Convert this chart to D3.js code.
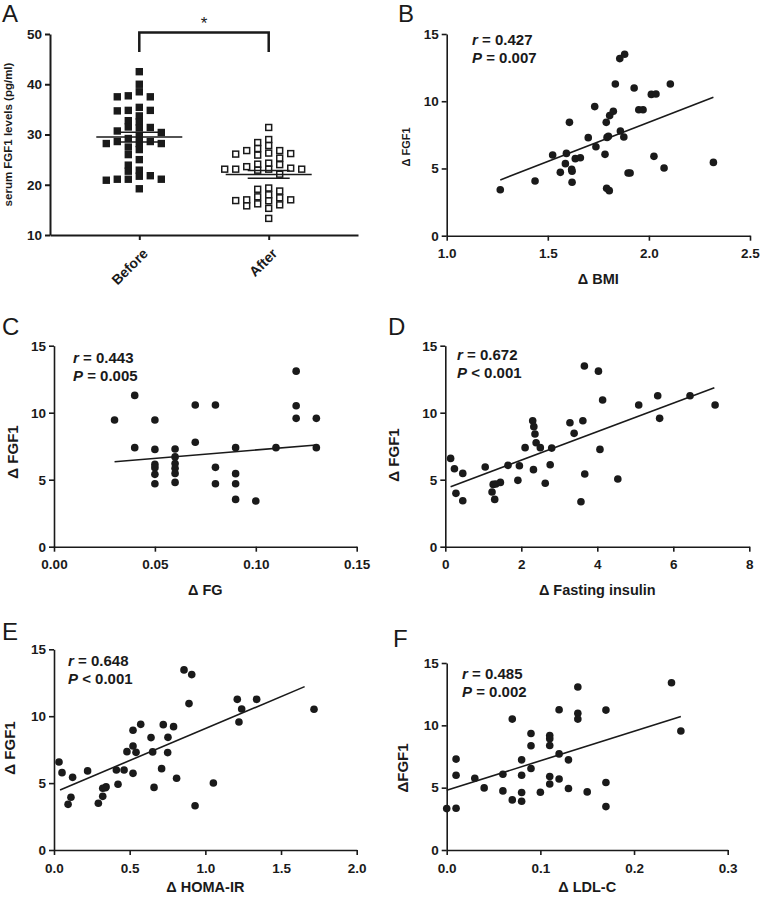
<!DOCTYPE html>
<html>
<head>
<meta charset="utf-8">
<script src="https://cdn.jsdelivr.net/npm/d3@7"></script>
<style>
  html, body { margin: 0; padding: 0; background: #fff; }
  svg { display: block; font-family: "Liberation Sans", Arial, sans-serif; }
</style>
</head>
<body>
<script>
// ---------------- DATA ----------------
const categories = ["Before", "After"];
const fgf1Before = [42.5, 40.0, 37.7, 37.5, 37.5, 38.5, 34.8, 34.7, 34.8, 35.4, 33.7, 32.75, 32.5, 31.5, 31.3, 31.4,
  30.4, 30.7, 29.6, 29.2, 28.6, 28.6, 28.2, 28.2, 28.2, 27.0, 27.5, 26.0, 25.0, 23.9, 22.9, 21.8, 21.1, 21.1, 21.7,
  22.7, 20.9, 21.1, 19.2];
const fgf1After = [31.4, 28.4, 27.8, 29.0, 26.8, 26.3, 26.1, 25.3, 25.9, 26.2, 26.8, 27.2, 24.0, 23.3, 23.1, 23.1,
  22.9, 22.1, 23.1, 23.1, 23.6, 24.1, 24.3, 19.35, 18.75, 19.1, 17.6, 17.0, 16.85, 16.8, 16.0, 15.8, 15.3, 16.2,
  17.0, 17.4, 18.0, 13.3];
const yTicksA = [10, 20, 30, 40, 50];

// B: delta BMI vs delta FGF1
const bmiX = [1.265, 1.437, 1.524, 1.562, 1.587, 1.592, 1.607, 1.618, 1.62, 1.62, 1.636, 1.661, 1.70, 1.732, 1.738,
  1.783, 1.789, 1.793, 1.80, 1.791, 1.804, 1.806, 1.824, 1.834, 1.856, 1.88, 1.859, 1.876, 1.897, 1.907, 1.927, 1.95,
  1.971, 2.012, 2.035, 2.025, 2.075, 2.106, 2.319];
const bmiY = [3.42, 4.07, 6.0, 4.71, 5.36, 6.12, 8.43, 4.93, 4.79, 3.97, 5.73, 5.80, 7.29, 9.6, 6.62, 6.05, 8.43,
  7.31, 7.4, 3.52, 3.35, 8.93, 9.25, 11.28, 13.17, 13.49, 7.79, 7.34, 4.66, 4.66, 10.98, 9.37, 9.37, 10.51, 10.54,
  5.90, 5.03, 11.28, 5.45];
const bmiFit = [[1.265, 4.15], [2.319, 10.3]];
const bmiTicks = [1.0, 1.5, 2.0, 2.5];

// C: delta FG
const fgX = [0.03, 0.04, 0.04, 0.05, 0.05, 0.05, 0.05, 0.05, 0.05, 0.06, 0.06, 0.06, 0.06, 0.06, 0.06, 0.07, 0.07,
  0.08, 0.08, 0.08, 0.09, 0.09, 0.09, 0.09, 0.10, 0.11, 0.12, 0.12, 0.12, 0.13, 0.13];
const fgY = [9.45, 11.29, 7.39, 9.45, 7.26, 6.14, 5.9, 5.4, 4.7, 7.29, 6.7, 6.2, 5.85, 5.47, 4.8, 10.57, 7.79,
  10.57, 5.92, 4.7, 7.39, 5.45, 4.7, 3.53, 3.41, 7.39, 13.1, 10.52, 9.58, 9.58, 7.39];
const fgFit = [[0.03, 6.34], [0.13, 7.59]];
const fgTicks = [0, 0.05, 0.10, 0.15];

// D: delta fasting insulin
const insX = [0.14, 0.24, 0.28, 0.46, 0.46, 1.05, 1.23, 1.26, 1.30, 1.33, 1.45, 1.65, 2.1, 1.95, 1.91, 2.30, 2.33,
  2.36, 2.39, 2.5, 2.32, 2.63, 2.76, 2.8, 3.28, 3.39, 3.57, 3.62, 3.66, 3.67, 4.03, 4.07, 4.14, 4.54, 5.09, 5.59,
  5.64, 6.44, 7.1];
const insY = [6.59, 5.82, 3.98, 5.47, 3.43, 5.95, 4.08, 4.65, 3.53, 4.68, 4.8, 6.07, 7.39, 6.04, 4.95, 9.4, 8.96,
  8.41, 7.76, 7.39, 5.75, 4.73, 6.12, 7.36, 9.25, 8.46, 3.36, 9.4, 13.48, 5.42, 13.1, 7.26, 10.95, 5.05, 10.57,
  11.27, 9.58, 11.27, 10.57];
const insFit = [[0.14, 4.48], [7.08, 11.87]];
const insTicks = [0, 2, 4, 6, 8];

// E: delta HOMA-IR
const homaX = [0.033, 0.053, 0.093, 0.112, 0.123, 0.222, 0.293, 0.322, 0.322, 0.344, 0.34, 0.412, 0.423, 0.463,
  0.482, 0.522, 0.522, 0.522, 0.542, 0.573, 0.641, 0.652, 0.661, 0.711, 0.722, 0.753, 0.751, 0.79, 0.81, 0.859,
  0.91, 0.892, 0.932, 1.053, 1.211, 1.222, 1.24, 1.339, 1.718];
const homaY = [6.58, 5.78, 3.41, 3.94, 5.43, 5.91, 3.49, 4.01, 4.61, 4.73, 4.65, 5.98, 4.91, 5.98, 7.35, 8.95, 7.77,
  5.73, 7.3, 9.39, 8.4, 7.33, 4.68, 6.08, 9.37, 8.42, 7.28, 9.22, 5.36, 13.46, 13.11, 10.94, 3.31, 5.01, 11.26,
  9.57, 10.54, 11.26, 10.52];
const homaFit = [[0.04, 4.49], [1.656, 12.21]];
const homaTicks = [0, 0.5, 1.0, 1.5, 2.0];

// F: delta LDL-C
const ldlX = [0.0, 0.01, 0.01, 0.01, 0.03, 0.04, 0.06, 0.06, 0.07, 0.07, 0.08, 0.08, 0.08, 0.08, 0.09, 0.09, 0.09,
  0.10, 0.11, 0.11, 0.11, 0.11, 0.11, 0.12, 0.12, 0.12, 0.13, 0.13, 0.14, 0.14, 0.14, 0.15, 0.17, 0.17, 0.17, 0.24,
  0.25];
const ldlY = [3.32, 3.35, 6.0, 7.29, 5.76, 4.98, 6.08, 4.74, 10.5, 4.02, 7.23, 6.0, 4.61, 3.91, 9.35, 8.36, 6.54,
  4.63, 9.19, 8.92, 8.38, 5.89, 5.3, 11.25, 7.71, 5.7, 7.23, 4.93, 13.07, 10.97, 10.5, 4.66, 11.22, 5.41, 3.48,
  13.42, 9.54];
const ldlFit = [[0.0, 4.79], [0.25, 10.71]];
const ldlTicks = [0, 0.1, 0.2, 0.3];

const fgf1Ticks = [0, 5, 10, 15];

// ---------------- DRAW ----------------
const svg = d3.select("body").append("svg").attr("width", 762).attr("height", 901);
const INK = "#1a1a1a";

function styleAxis(g, sw) {
  g.selectAll("path.domain").attr("stroke", INK).attr("stroke-width", sw);
  g.selectAll(".tick line").attr("stroke", INK).attr("stroke-width", sw);
  g.selectAll(".tick text").attr("fill", INK).attr("font-size", 13.5).attr("font-weight", "bold")
    .attr("font-family", "'Liberation Sans', Arial, sans-serif");
}

function letter(t, x, y) {
  svg.append("text").attr("x", x).attr("y", y).attr("font-size", 24).attr("fill", INK).text(t);
}

// ----- Panel A -----
(function () {
  const L = 50, R = 358, T = 34, B = 235;
  const y = d3.scaleLinear().domain([10, 50]).range([B, T]);
  const x = d3.scalePoint().domain(categories).range([L, R]).padding(0.69);
  const g = svg.append("g");
  const ya = g.append("g").attr("transform", `translate(${L},0)`)
    .call(d3.axisLeft(y).tickValues(yTicksA).tickSize(5).tickSizeOuter(0).tickPadding(3));
  styleAxis(ya, 2);
  const xa = g.append("g").attr("transform", `translate(0,${B})`)
    .call(d3.axisBottom(x).tickSize(5).tickSizeOuter(0).tickFormat(""));
  styleAxis(xa, 2);
  categories.forEach(c => {
    g.append("text").attr("transform", `translate(${x(c) + 6},${B + 16}) rotate(-45)`)
      .attr("text-anchor", "end").attr("dy", "0.35em").attr("font-size", 14).attr("font-weight", "bold")
      .attr("fill", INK).text(c);
  });
  g.append("text").attr("transform", `translate(12,${(T + B) / 2}) rotate(-90)`)
    .attr("text-anchor", "middle").attr("font-size", 11.5).attr("font-weight", "bold").attr("fill", INK)
    .text("serum FGF1 levels (pg/ml)");

  // beeswarm layout computed from values
  const S = 7.4, HX = 11, VY = 6;
  function swarm(vals) {
    const placed = [];
    const order = vals.map((v, i) => ({ v, i })).sort((a, b) => b.v - a.v);
    order.forEach(o => {
      const py = y(o.v);
      const ints = placed.filter(p => Math.abs(p.py - py) < VY).map(p => [p.dx - HX, p.dx + HX]);
      const cands = [0];
      ints.forEach(iv => { cands.push(iv[0], iv[1]); });
      cands.sort((a, b) => Math.abs(a) - Math.abs(b) || a - b);
      let dx = 0;
      for (const c of cands) {
        if (!ints.some(iv => c > iv[0] + 1e-6 && c < iv[1] - 1e-6)) { dx = c; break; }
      }
      placed.push({ v: o.v, py, dx });
    });
    return placed;
  }
  const sets = [[categories[0], fgf1Before, true], [categories[1], fgf1After, false]];
  sets.forEach(([c, vals, filled]) => {
    const pts = swarm(vals);
    g.append("g").selectAll("rect").data(pts).join("rect")
      .attr("x", d => x(c) + d.dx - (filled ? S / 2 : S / 2 - 0.75))
      .attr("y", d => d.py - (filled ? S / 2 : S / 2 - 0.75))
      .attr("width", filled ? S : S - 1.5).attr("height", filled ? S : S - 1.5)
      .attr("fill", filled ? INK : "#fff").attr("stroke", INK).attr("stroke-width", filled ? 0 : 1.5);
    const m = d3.mean(vals);
    const sem = d3.deviation(vals) / Math.sqrt(vals.length);
    g.append("line").attr("x1", x(c) - 43).attr("x2", x(c) + 43).attr("y1", y(m)).attr("y2", y(m))
      .attr("stroke", INK).attr("stroke-width", 1.5);
    [m + sem, m - sem].forEach(v => {
      g.append("line").attr("x1", x(c) - 21).attr("x2", x(c) + 21).attr("y1", y(v)).attr("y2", y(v))
        .attr("stroke", INK).attr("stroke-width", 1.5);
    });
  });
  // significance bracket
  g.append("path")
    .attr("d", `M${x(categories[0])},${52}V${32.5}H${x(categories[1])}V${52}`)
    .attr("fill", "none").attr("stroke", INK).attr("stroke-width", 2.5);
  g.append("text").attr("x", (x(categories[0]) + x(categories[1])) / 2).attr("y", 29)
    .attr("text-anchor", "middle").attr("font-size", 17).attr("fill", INK).text("*");
  letter("A", 2, 22);
})();

// ----- Scatter panels -----
function scatter(cfg) {
  const { L, R, T, B } = cfg;
  const x = d3.scaleLinear().domain(cfg.xDomain).range([L, R]);
  const y = d3.scaleLinear().domain([0, 15]).range([B, T]);
  const g = svg.append("g");
  const ya = g.append("g").attr("transform", `translate(${L},0)`)
    .call(d3.axisLeft(y).tickValues(fgf1Ticks).tickSize(5).tickSizeOuter(0).tickPadding(3));
  styleAxis(ya, 1.6);
  const xa = g.append("g").attr("transform", `translate(0,${B})`)
    .call(d3.axisBottom(x).tickValues(cfg.xTicks).tickFormat(d3.format(cfg.fmt)).tickSize(5).tickSizeOuter(0).tickPadding(8));
  styleAxis(xa, 1.6);
  g.append("text").attr("x", (L + R) / 2).attr("y", cfg.xlY).attr("text-anchor", "middle")
    .attr("font-size", 14.5).attr("font-weight", "bold").attr("fill", INK).text(cfg.xLabel);
  g.append("text").attr("transform", `translate(${cfg.ylX},${cfg.ylY}) rotate(-90)`)
    .attr("text-anchor", "middle").attr("font-size", cfg.ylSize).attr("font-weight", "bold").attr("fill", INK)
    .text(cfg.yLabel);
  const pts = cfg.xs.map((v, i) => [v, cfg.ys[i]]);
  g.append("g").selectAll("circle").data(pts).join("circle")
    .attr("cx", d => x(d[0])).attr("cy", d => y(d[1])).attr("r", 3.8).attr("fill", INK);
  g.append("path").datum(cfg.fit)
    .attr("d", d3.line().x(d => x(d[0])).y(d => y(d[1])))
    .attr("stroke", INK).attr("stroke-width", 1.6).attr("fill", "none");
  const t1 = g.append("text").attr("x", cfg.annX).attr("y", cfg.annY).attr("font-size", 15)
    .attr("font-weight", "bold").attr("fill", INK);
  t1.append("tspan").attr("font-style", "italic").text("r");
  t1.append("tspan").text(" = " + cfg.r);
  const t2 = g.append("text").attr("x", cfg.annX).attr("y", cfg.annY + 18).attr("font-size", 15)
    .attr("font-weight", "bold").attr("fill", INK);
  t2.append("tspan").attr("font-style", "italic").text("P");
  t2.append("tspan").text(" " + cfg.p);
  letter(cfg.letter, cfg.lx, cfg.ly);
}

scatter({ L: 446.7, R: 750, T: 34, B: 235.7, xDomain: [1.0, 2.5], xTicks: bmiTicks, fmt: ".1f",
  xs: bmiX, ys: bmiY, fit: bmiFit, xLabel: "\u0394 BMI", xlY: 284, yLabel: "\u0394 FGF1", ylSize: 11,
  ylX: 410, ylY: 147, r: "0.427", p: "= 0.007", annX: 472, annY: 45, letter: "B", lx: 398, ly: 22 });

scatter({ L: 54, R: 356.7, T: 345.7, B: 546.7, xDomain: [0, 0.15], xTicks: fgTicks, fmt: ".2f",
  xs: fgX, ys: fgY, fit: fgFit, xLabel: "\u0394 FG", xlY: 595, yLabel: "\u0394 FGF1", ylSize: 15,
  ylX: 18, ylY: 452, r: "0.443", p: "= 0.005", annX: 73, annY: 363, letter: "C", lx: 2, ly: 335 });

scatter({ L: 445.3, R: 749.3, T: 345.7, B: 546.7, xDomain: [0, 8], xTicks: insTicks, fmt: "d",
  xs: insX, ys: insY, fit: insFit, xLabel: "\u0394 Fasting insulin", xlY: 595, yLabel: "\u0394 FGF1", ylSize: 15,
  ylX: 399, ylY: 455, r: "0.672", p: "< 0.001", annX: 457, annY: 360, letter: "D", lx: 388, ly: 335 });

scatter({ L: 54, R: 356.7, T: 649.3, B: 850, xDomain: [0, 2.0], xTicks: homaTicks, fmt: ".1f",
  xs: homaX, ys: homaY, fit: homaFit, xLabel: "\u0394 HOMA-IR", xlY: 892, yLabel: "\u0394 FGF1", ylSize: 15,
  ylX: 15, ylY: 748, r: "0.648", p: "< 0.001", annX: 68, annY: 666, letter: "E", lx: 2, ly: 640 });

scatter({ L: 446.7, R: 727.7, T: 663, B: 850, xDomain: [0, 0.3], xTicks: ldlTicks, fmt: ".1f",
  xs: ldlX, ys: ldlY, fit: ldlFit, xLabel: "\u0394 LDL-C", xlY: 892, yLabel: "\u0394FGF1", ylSize: 15,
  ylX: 408, ylY: 768, r: "0.485", p: "= 0.002", annX: 462, annY: 679, letter: "F", lx: 393, ly: 647 });
</script>
</body>
</html>
